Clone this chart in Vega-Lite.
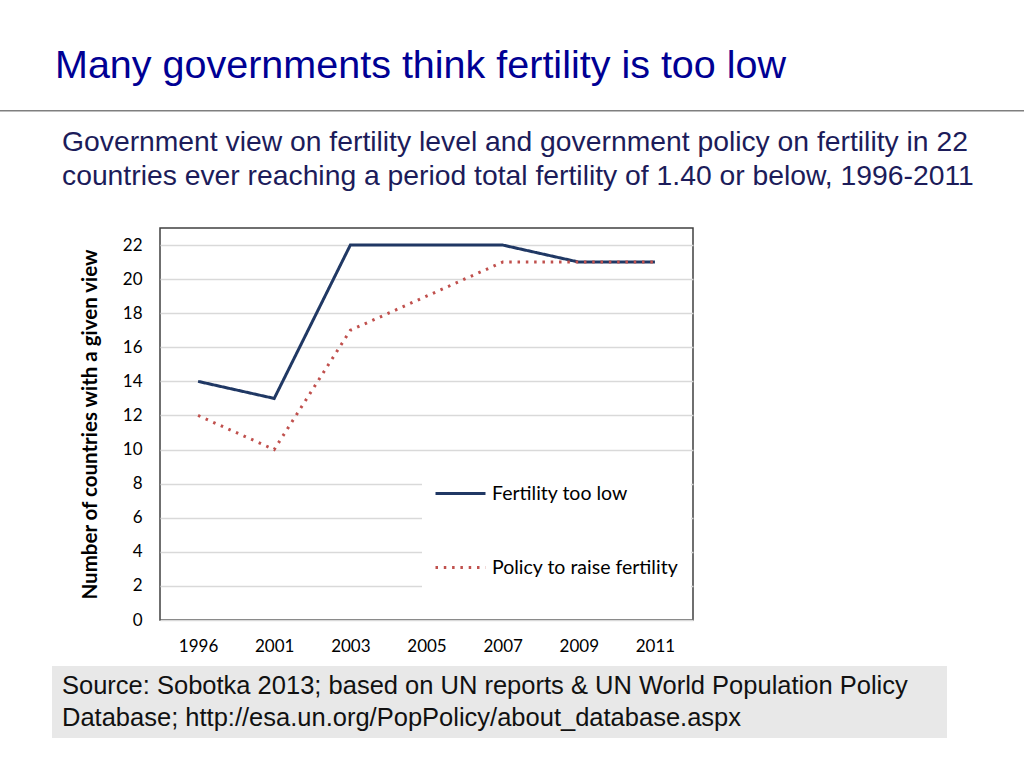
{
  "$schema": "https://vega.github.io/schema/vega-lite/v6.json",
  "autosize": "pad",
  "padding": {"left": 0, "top": 45, "right": 0, "bottom": 0},
  "background": "white",
  "config": {
    "view": {"stroke": null},
    "font": "Liberation Sans"
  },
  "title": {
    "text": "Many governments think fertility is too low",
    "anchor": "start",
    "frame": "group",
    "dx": 55,
    "offset": 24,
    "fontSize": 39.5,
    "font": "Liberation Sans",
    "fontWeight": "normal",
    "color": "#000094"
  },
  "bounds": "flush",
  "align": "each",
  "columns": 3,
  "spacing": {"row": 46, "column": 0},
  "concat": [
    {"width": 52, "height": 1.5, "data": {"values": []}, "mark": "point", "view": {"fill": "#7f7f7f", "stroke": null}},
    {"width": 108, "height": 1.5, "data": {"values": []}, "mark": "point", "view": {"fill": "#7f7f7f", "stroke": null}},
    {"width": 864, "height": 1.5, "data": {"values": []}, "mark": "point", "view": {"fill": "#7f7f7f", "stroke": null}},

    {"width": 52, "height": 23.5, "data": {"values": []}, "mark": "point"},
    {"width": 108, "height": 23.5, "data": {"values": []}, "mark": "point"},
    {"width": 864, "height": 23.5, "data": {"values": []}, "mark": "point"},

    {"width": 52, "height": 392, "data": {"values": []}, "mark": "point"},
    {"width": 108, "height": 392, "data": {"values": []}, "mark": "point"},
    {
      "width": 533,
      "height": 392,
      "view": {"stroke": "#404040", "strokeWidth": 1.5},
      "title": {
        "text": [
          "Government view on fertility level and government policy on fertility in 22",
          "countries ever reaching a period total fertility of 1.40 or below, 1996-2011"
        ],
        "anchor": "start",
        "frame": "group",
        "dx": -98,
        "offset": 37,
        "fontSize": 28.3,
        "font": "Liberation Sans",
        "fontWeight": "normal",
        "color": "#1c1c5a",
        "lineHeight": 34,
        "limit": 1000
      },
      "data": {
        "values": [
          {"year": "1996", "series": "Fertility too low", "value": 14},
          {"year": "2001", "series": "Fertility too low", "value": 13},
          {"year": "2003", "series": "Fertility too low", "value": 22},
          {"year": "2005", "series": "Fertility too low", "value": 22},
          {"year": "2007", "series": "Fertility too low", "value": 22},
          {"year": "2009", "series": "Fertility too low", "value": 21},
          {"year": "2011", "series": "Fertility too low", "value": 21},
          {"year": "1996", "series": "Policy to raise fertility", "value": 12},
          {"year": "2001", "series": "Policy to raise fertility", "value": 10},
          {"year": "2003", "series": "Policy to raise fertility", "value": 17},
          {"year": "2005", "series": "Policy to raise fertility", "value": 19},
          {"year": "2007", "series": "Policy to raise fertility", "value": 21},
          {"year": "2009", "series": "Policy to raise fertility", "value": 21},
          {"year": "2011", "series": "Policy to raise fertility", "value": 21}
        ]
      },
      "mark": {"type": "line", "strokeWidth": 3},
      "encoding": {
        "x": {
          "field": "year",
          "type": "ordinal",
          "sort": null,
          "scale": {"type": "point", "padding": 0.5},
          "axis": {
            "title": null,
            "labelAngle": 0,
            "ticks": false,
            "domain": false,
            "grid": false,
            "labelPadding": 18,
            "labelFont": "Lato",
            "labelFontSize": 17,
            "labelColor": "#000000"
          }
        },
        "y": {
          "field": "value",
          "type": "quantitative",
          "scale": {"domain": [0, 23], "nice": false},
          "axis": {
            "values": [0, 2, 4, 6, 8, 10, 12, 14, 16, 18, 20, 22],
            "title": "Number of  countries with a given view",
            "titleFont": "Lato",
            "titleFontSize": 20.5,
            "titleFontWeight": "bold",
            "titleColor": "#000000",
            "titlePadding": 22,
            "ticks": false,
            "domain": false,
            "gridColor": "#d9d9d9",
            "gridWidth": 1.5,
            "labelPadding": 18,
            "labelFont": "Lato",
            "labelFontSize": 17,
            "labelColor": "#000000"
          }
        },
        "color": {
          "field": "series",
          "type": "nominal",
          "scale": {
            "domain": ["Fertility too low", "Policy to raise fertility"],
            "range": ["#203864", "#c0504d"]
          },
          "legend": {
            "orient": "none",
            "legendX": 422,
            "legendY": 345,
            "title": null,
            "fillColor": "white",
            "padding": 12,
            "symbolType": "stroke",
            "symbolSize": 2500,
            "symbolStrokeWidth": 3,
            "labelFont": "Lato",
            "labelFontSize": 19.5,
            "labelColor": "#000000",
            "labelOffset": 5,
            "rowPadding": 38,
            "labelLimit": 400
          }
        },
        "strokeDash": {
          "field": "series",
          "type": "nominal",
          "scale": {
            "domain": ["Fertility too low", "Policy to raise fertility"],
            "range": [[1, 0], [2.5, 5.8]]
          },
          "legend": {
            "orient": "none",
            "legendX": 422,
            "legendY": 345,
            "title": null,
            "fillColor": "white",
            "padding": 12,
            "symbolType": "stroke",
            "symbolSize": 2500,
            "symbolStrokeWidth": 3,
            "labelFont": "Lato",
            "labelFontSize": 19.5,
            "labelColor": "#000000",
            "labelOffset": 5,
            "rowPadding": 38,
            "labelLimit": 400
          }
        }
      }
    },

    {"width": 52, "height": 72, "data": {"values": []}, "mark": "point"},
    {"width": 108, "height": 72, "data": {"values": []}, "mark": "point", "view": {"fill": "#e8e8e8", "stroke": null}},
    {
      "width": 787,
      "height": 72,
      "view": {"fill": "#e8e8e8", "stroke": null},
      "data": {
        "values": [
          {"line": "Source: Sobotka 2013; based on UN reports & UN World Population Policy"},
          {"line": "Database; http://esa.un.org/PopPolicy/about_database.aspx"}
        ]
      },
      "mark": {
        "type": "text",
        "align": "left",
        "baseline": "middle",
        "dx": -491.5,
        "fontSize": 25.5,
        "font": "Liberation Sans",
        "color": "#111111"
      },
      "encoding": {
        "y": {"field": "line", "type": "nominal", "sort": null, "axis": null, "scale": {"padding": 0.66}},
        "text": {"field": "line"}
      }
    }
  ]
}
